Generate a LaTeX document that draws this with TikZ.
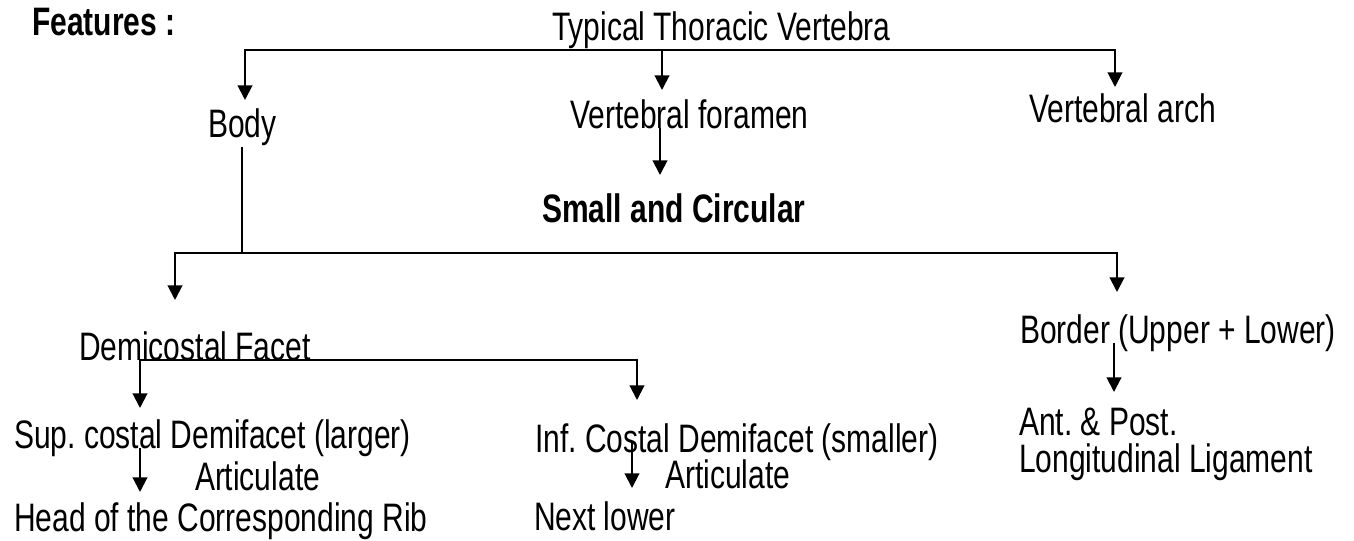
\documentclass[tikz,border=0pt]{standalone}
\usepackage{fontspec}
\setmainfont{Liberation Sans}[FakeStretch=0.755]
\usetikzlibrary{arrows.meta}
\frenchspacing

\tikzset{every picture/.style={line width=1.5pt}}

\begin{document}
\begin{tikzpicture}[x=0.75pt,y=0.75pt,yscale=-1,xscale=1,
  txt/.style={anchor=base west,inner sep=0.75pt,font=\fontsize{29.8}{34}\selectfont},
  arr/.style={-{Triangle[length=11pt,width=11pt]}}]
%set diagram left start at 0, and has height of 540
\useasboundingbox (0,0) rectangle (1354,540);

% Text Node
\draw (30,35) node [txt,font=\fontsize{29.8}{34}\selectfont\bfseries] (feat) {Features :};
% Text Node
\draw (550,40) node [txt] (typ) {Typical Thoracic Vertebra};
% Text Node
\draw (206,137) node [txt] (body) {Body};
% Text Node
\draw (568,128) node [txt] (foramen) {Vertebral foramen};
% Text Node
\draw (1027,122) node [txt] (arch) {Vertebral arch};
% Text Node
\draw (540,222) node [txt,font=\fontsize{29.8}{34}\selectfont\bfseries] (small) {Small and Circular};
% Text Node
\draw (77,360) node [txt] (demi) {Demicostal Facet};
% Text Node
\draw (1018,343) node [txt] (border) {Border (Upper + Lower)};
% Text Node
\draw (12,448) node [txt] (sup) {Sup. costal Demifacet (larger)};
% Text Node
\draw (193,490) node [txt] (artA) {Articulate};
% Text Node
\draw (12,531) node [txt] (head) {Head of the Corresponding Rib};
% Text Node
\draw (533,452) node [txt] (inf) {Inf. Costal Demifacet (smaller)};
% Text Node
\draw (663,488) node [txt] (artB) {Articulate};
% Text Node
\draw (532,530) node [txt] (next) {Next lower};
% Text Node
\draw (1017,406) node [txt,anchor=north west,align=left,font=\fontsize{29.8}{27.75}\selectfont] (lig) {Ant. \& Post.\\Longitudinal Ligament};

% arrow tips
\coordinate (tipBody) at (245,100);
\coordinate (tipFor) at (662,90);
\coordinate (tipArch) at (1115,87);
\coordinate (tipSmall) at (660,175);
\coordinate (tipDemi) at (175,300);
\coordinate (tipBorder) at (1117,292);
\coordinate (tipSup) at (140,408);
\coordinate (tipInf) at (637,400);
\coordinate (tipHead) at (140,492);
\coordinate (tipNext) at (632,488);
\coordinate (tipLig) at (1114,392);

%Straight Lines
\draw [arr] (typ.south) -| (tipBody);
\draw [arr] (typ.south) -| (tipArch);
\draw [arr] (typ.south -| tipFor) -- (tipFor);
%Straight Lines
\draw [arr] (foramen.base -| tipSmall) -- (tipSmall);
%Straight Lines
\draw (body.south) -- ++(0,106) coordinate (bodyJoin);
\draw [arr] (bodyJoin) -| (tipDemi);
\draw [arr] (bodyJoin) -| (tipBorder);
%Straight Lines
\draw [arr] (demi.base -| tipSup) -- (tipSup);
\draw [arr] (demi.base -| tipSup) -| (tipInf);
%Straight Lines
\draw [arr] (sup.base -| tipHead) -- (tipHead);
\draw [arr] (inf.center -| tipNext) -- (tipNext);
\draw [arr] (border.base -| tipLig) -- (tipLig);

\end{tikzpicture}
\end{document}
